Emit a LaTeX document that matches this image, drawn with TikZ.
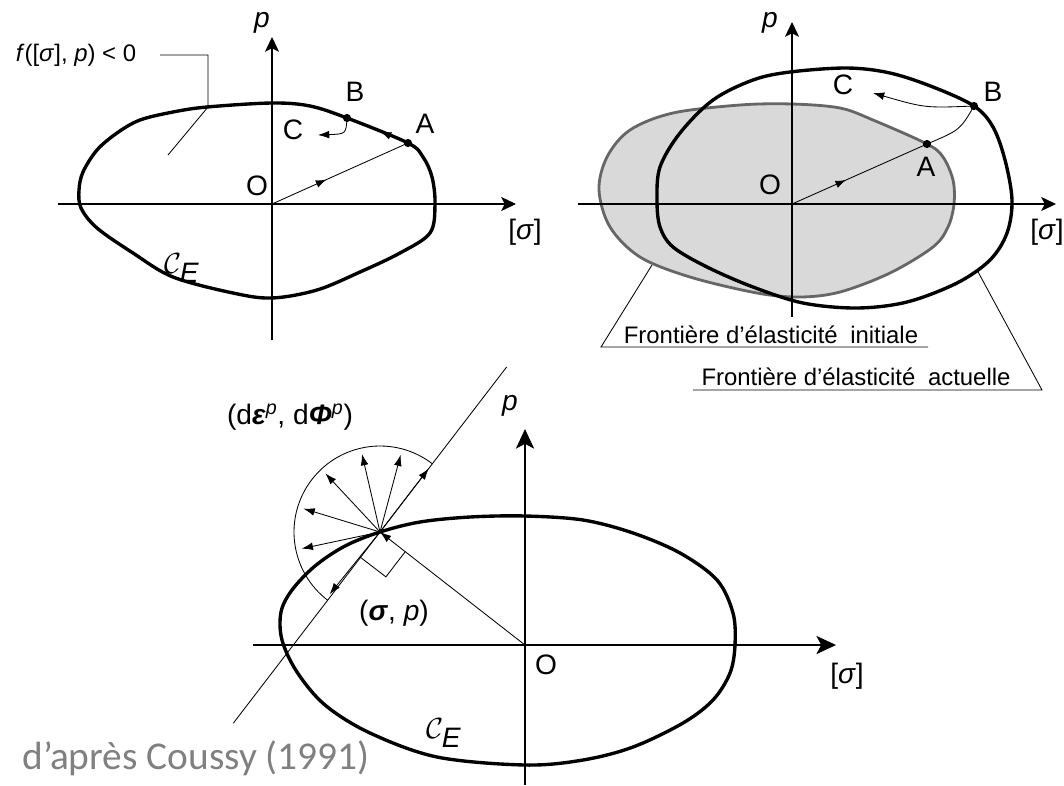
\documentclass[tikz,border=0pt]{standalone}
\usepackage{fontspec}
\setmainfont{Liberation Sans}
\newfontfamily\notefont{Carlito}
\usepackage{tikz}
\usetikzlibrary{arrows.meta,decorations.markings,calc}
\definecolor{ink}{HTML}{000000}
\definecolor{initgray}{HTML}{666666}
\definecolor{initfill}{HTML}{D9D9D9}
\definecolor{notegray}{HTML}{808080}
\tikzset{
  axisline/.style={line width=0.75pt,-{Stealth[length=10.5pt,width=10pt,inset=2.5pt]}},
  bigaxis/.style={line width=0.75pt,-{Stealth[length=14pt,width=13pt,inset=3.5pt]}},
  yieldline/.style={draw=ink,line width=2.4pt,line join=round},
  initline/.style={draw=initgray,fill=initfill,line width=2pt},
  thinline/.style={line width=0.6pt},
  smallarr/.style={line width=0.6pt,-{Latex[length=8pt,width=5.5pt]}},
  midarr/.style={postaction={decorate},
                 decoration={markings,mark=at position #1 with {\arrow{Latex[length=7.5pt,width=5.5pt]}}}},
  lbl/.style={font=\fontsize{20}{23}\selectfont,inner sep=0pt},
  tag/.style={font=\fontsize{17}{20}\selectfont,inner sep=0pt},
  dotpt/.style={circle,fill=ink,inner sep=0pt,minimum size=5.8pt}
}

\begin{document}
\begin{tikzpicture}[x=0.025cm,y=-0.025cm,>=Latex]
  \useasboundingbox (0,0) rectangle (1064,785);

  % --- top left: elastic domain
  \coordinate (O1) at (272,204);
  \coordinate (A1) at (408,143);
  \coordinate (B1) at (347,118);
  \coordinate (Ct1) at (318,135);
  \coordinate (xl1) at (58,204);   \coordinate (xr1) at (516,204);
  \coordinate (yb1) at (272,340);  \coordinate (yt1) at (272,37);
  \draw[axisline] (xl1) -- (xr1);
  \draw[axisline] (yb1) -- (yt1);
  \draw[yieldline] plot[smooth cycle,tension=0.55] coordinates {
    (79,190) (83,172) (97,150) (117,133) (140,120) (173,112) (207,107) (272,103) (310,106)
    (B1) (A1) (423,157) (432,177) (435,204) (430,233) (400,253) (360,272)
    (317,290) (272,298) (233,293) (173,277) (133,253) (97,228) (81,208)};
  \draw[thinline,midarr=0.4] (O1) -- (A1);
  \path[midarr=0.45] (A1) -- (B1);
  \draw[smallarr] (B1) .. controls (346,134) .. (Ct1);
  \node[dotpt] (dA1) at (A1) {};
  \node[dotpt] (dB1) at (B1) {};
  \node[lbl] (p1) at (262,23) {\textit{p}};
  \node[lbl] (s1) at (525,232) {[\textit{σ}]};
  \node[lbl] (o1) at (257,186) {O};
  \node[lbl] (a1) at (425,124) {A};
  \node[lbl] (b1) at (355,92) {B};
  \node[lbl] (c1) at (293,130) {C};
  \node[lbl] (ce1) at (182,268) {$\mathcal{C}_{\textit{E}}$};
  \node[tag] (f1) at (76,55) {\textit{f}([\textit{σ}], \textit{p}) < 0};
  \coordinate (fk0) at (160,55);
  \coordinate (fk1) at (208,55);
  \coordinate (fk2) at (208,107);
  \coordinate (fk3) at (168,155);
  \draw[thinline] (fk0) -- (fk1) -- (fk2) -- (fk3);

  % --- top right: hardening
  \coordinate (O2) at (792,204);
  \coordinate (A2) at (927,144);
  \coordinate (B2) at (974,106);
  \coordinate (Ct2) at (873,93);
  \coordinate (xl2) at (578,204);  \coordinate (xr2) at (1056,204);
  \coordinate (yb2) at (792,317);  \coordinate (yt2) at (792,22);
  \draw[initline] plot[smooth cycle,tension=0.55] coordinates {
    (599,190) (607,157) (630,130) (673,113) (740,105) (792,104) (840,108)
    (873,120) (A2) (943,157) (953,180) (954,204) (948,227) (933,247)
    (890,273) (840,292) (800,297) (757,293) (690,277) (640,257) (610,227)};
  \draw[axisline] (xl2) -- (xr2);
  \draw[axisline] (yb2) -- (yt2);
  \draw[yieldline] plot[smooth cycle,tension=0.55] coordinates {
    (657,200) (660,167) (680,133) (713,100) (753,80) (790,72) (847,68)
    (890,73) (933,87) (B2) (993,127) (1005,160) (1012,200) (1007,233)
    (990,260) (957,283) (907,302) (857,308) (803,303) (753,287) (707,267)
    (673,247) (660,227)};
  \draw[thinline,midarr=0.4] (O2) -- (A2);
  \draw[thinline] (A2) .. controls (960,130) .. (B2);
  \draw[smallarr] (B2) .. controls (925,108) .. (Ct2);
  \node[dotpt] (dA2) at (A2) {};
  \node[dotpt] (dB2) at (B2) {};
  \node[lbl] (p2) at (770,23) {\textit{p}};
  \node[lbl] (s2) at (1047,232) {[\textit{σ}]};
  \node[lbl] (o2) at (770,185) {O};
  \node[lbl] (a2) at (926,167) {A};
  \node[lbl] (b2) at (993,92) {B};
  \node[lbl] (c2) at (843,85) {C};
  \node[tag,anchor=base] (finit) at (771,343) {Frontière d’élasticité\hspace{0.25em} initiale};
  \node[tag,anchor=base] (fcur) at (856,385) {Frontière d’élasticité\hspace{0.25em} actuelle};
  \coordinate (li0) at (652,265);
  \coordinate (li1) at (601,347);
  \coordinate (li2) at (928,347);
  \draw[thinline] (li0) -- (li1) -- (li2);
  \coordinate (lc0) at (977,270);
  \coordinate (lc1) at (1042,390);
  \coordinate (lc2) at (693,390);
  \draw[thinline] (lc0) -- (lc1) -- (lc2);

  % --- bottom: normality rule
  \coordinate (O3) at (525,645);
  \coordinate (P) at (380,532);
  \coordinate (xl3) at (253,645);  \coordinate (xr3) at (836,645);
  \coordinate (yb3) at (525,785);  \coordinate (yt3) at (525,429);
  \draw[bigaxis] (xl3) -- (xr3);
  \draw[bigaxis] (yb3) -- (yt3);
  \draw[yieldline] plot[smooth cycle,tension=0.55] coordinates {
    (P) (420,522) (470,517) (525,516) (583,520) (633,533) (680,553) (717,580)
    (733,613) (735,645) (730,673) (713,700) (683,723) (633,747) (583,760)
    (525,765) (437,757) (370,733) (325,705) (297,672) (282,640) (281,612)
    (292,590) (315,566) (345,546)};
  \coordinate (Tlo) at ($(P)+(-232.5:241)$);
  \coordinate (Thi) at ($(P)+(-52.5:208)$);
  \draw[thinline] (Tlo) -- (Thi);
  \draw[smallarr] (O3) -- (P);
  \coordinate (Q1) at ($(P)+(-232.5:32)$);
  \coordinate (Q3) at ($(P)+(37.5:32)$);
  \coordinate (Q2) at ($(Q1)+(37.5:32)$);
  \draw[thinline] (Q1) -- (Q2) -- (Q3);
  \draw[thinline] ($(P)+(-52.5:86)$) arc[start angle=-52.5,end angle=-232.5,radius=86];
  \foreach \a in {52.5,75,103,133,163,192,231}
    \draw[smallarr] (P) -- ++(-\a:80);
  \node[lbl] (p3) at (510,406) {\textit{p}};
  \node[lbl] (s3) at (847,676) {[\textit{σ}]};
  \node[lbl] (o3) at (546,665) {O};
  \node[lbl] (sp3) at (394,613) {(\textbf{\textit{σ}}, \textit{p})};
  \node[lbl] (de3) at (290,417) {(d\textbf{\textit{ε}}\textsuperscript{\textit{p}}, d\textbf{\textit{Φ}}\textsuperscript{\textit{p}})};
  \node[lbl] (ce3) at (444,733) {$\mathcal{C}_{\textit{E}}$};
  \node[font=\notefont\fontsize{28}{30}\selectfont,text=notegray,inner sep=0pt] (src) at (196,758) {d’après Coussy (1991)};
\end{tikzpicture}
\end{document}
